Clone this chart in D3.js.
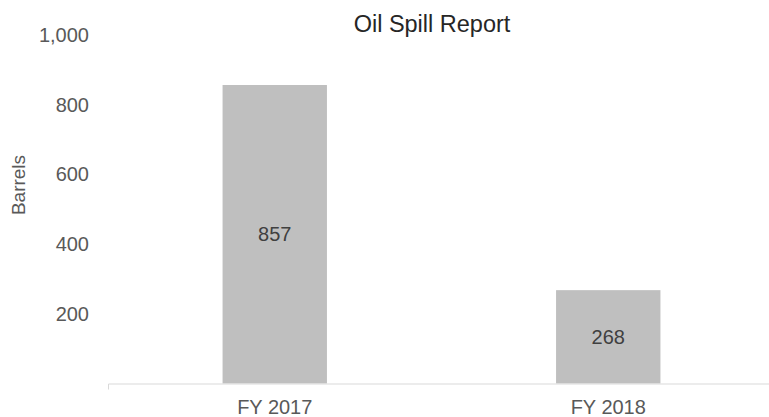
<!DOCTYPE html>
<html>
<head>
<meta charset="utf-8">
<script src="https://cdn.jsdelivr.net/npm/d3@7"></script>
<style>
  body { margin: 0; background: #fff; }
  svg { display: block; font-family: "Liberation Sans", Arial, sans-serif; }
</style>
</head>
<body>
<div class="chart"></div>
<script>
// data
let categories = ['FY 2017', 'FY 2018']
let barrels = [857, 268]
let yTicks = [200, 400, 600, 800, 1000]

//图表样式
let chartStyle = {
  w: 769,
  h: 417,
  left: 108,
  right: 775,
  top: 35.2,
  bottom: 383.5
}

let svg = d3.select('.chart')
  .append('svg')
  .attr('width', chartStyle.w)
  .attr('height', chartStyle.h)

let xScale = d3.scaleBand()
  .domain(categories)
  .range([chartStyle.left, chartStyle.right])
  .paddingInner(0.687)
  .paddingOuter(0.3435)

let yScale = d3.scaleLinear()
  .domain([0, 1000])
  .range([chartStyle.bottom, chartStyle.top])

// bars
svg.selectAll('rect')
  .data(barrels)
  .enter()
  .append('rect')
  .attr('x', (d, i) => xScale(categories[i]))
  .attr('y', d => yScale(d))
  .attr('width', xScale.bandwidth())
  .attr('height', d => yScale(0) - yScale(d))
  .attr('fill', '#bfbfbf')

// value labels in the middle of the bars
svg.selectAll('.val')
  .data(barrels)
  .enter()
  .append('text')
  .attr('class', 'val')
  .text(d => d)
  .attr('x', (d, i) => xScale(categories[i]) + xScale.bandwidth() / 2)
  .attr('y', d => (yScale(d) + yScale(0)) / 2)
  .attr('dy', '0.35em')
  .attr('text-anchor', 'middle')
  .attr('font-size', '20px')
  .attr('fill', '#404040')

// y axis (labels only)
let yAxis = d3.axisLeft(yScale)
  .tickValues(yTicks)
  .tickFormat(d3.format(','))
  .tickSize(0)
  .tickPadding(19)
svg.append('g')
  .attr('class', 'y axis')
  .attr('transform', `translate(${chartStyle.left}, 0)`)
  .call(yAxis)
  .call(g => g.select('.domain').remove())
  .selectAll('text')
  .attr('font-size', '20px')
  .attr('font-family', null)
  .attr('fill', '#595959')

// x axis
let xAxis = d3.axisBottom(xScale)
  .tickSizeInner(0)
  .tickSizeOuter(6)
  .tickPadding(16)
let xg = svg.append('g')
  .attr('class', 'x axis')
  .attr('transform', `translate(0, ${chartStyle.bottom})`)
  .call(xAxis)
xg.select('.domain').attr('stroke', '#d9d9d9')
xg.selectAll('text')
  .attr('font-size', '20px')
  .attr('font-family', null)
  .attr('fill', '#595959')

// title
svg.append('text')
  .text('Oil Spill Report')
  .attr('x', 432)
  .attr('y', 32)
  .attr('text-anchor', 'middle')
  .attr('font-size', '23.5px')
  .attr('fill', '#262626')

// y axis title
svg.append('text')
  .text('Barrels')
  .attr('transform', 'translate(25, 185) rotate(-90)')
  .attr('text-anchor', 'middle')
  .attr('font-size', '19px')
  .attr('fill', '#595959')
</script>
</body>
</html>
